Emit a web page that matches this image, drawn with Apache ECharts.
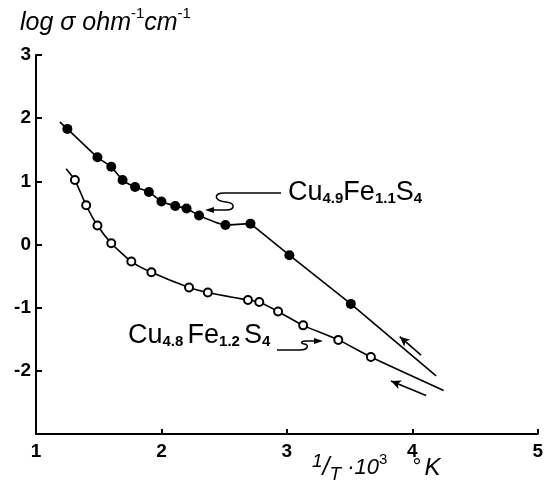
<!DOCTYPE html>
<html>
<head>
<meta charset="utf-8">
<script src="https://cdn.jsdelivr.net/npm/echarts@6/dist/echarts.min.js"></script>
<style>
  html, body { margin: 0; padding: 0; background: #fff; }
  #chart { width: 546px; height: 496px; }
</style>
</head>
<body>
<div id="chart"></div>
<script>
// Cu4.9Fe1.1S4 (filled dots)
const filledX = [1.25, 1.49, 1.60, 1.69, 1.79, 1.90, 2.00, 2.11, 2.20, 2.30, 2.51, 2.71, 3.02, 3.51];
const filledY = [1.83, 1.38, 1.23, 1.02, 0.91, 0.83, 0.68, 0.61, 0.57, 0.46, 0.31, 0.33, -0.17, -0.94];
const filledStart = [1.19, 1.94];
const filledEnd = [4.19, -2.08];
const filledKink = 11; // index where the curve turns into a straight line

// Cu4.8Fe1.2S4 (open circles)
const openX = [1.31, 1.40, 1.49, 1.60, 1.76, 1.92, 2.22, 2.37, 2.69, 2.78, 2.93, 3.13, 3.41, 3.67];
const openY = [1.02, 0.62, 0.30, 0.02, -0.27, -0.44, -0.68, -0.76, -0.88, -0.91, -1.06, -1.28, -1.51, -1.78];
const openStart = [1.24, 1.20];
const openEnd = [4.25, -2.31];

// heating/cooling arrows alongside the lines
const arrows = [
  [[4.07, -1.75], [3.90, -1.46]],
  [[4.11, -2.39], [3.83, -2.16]]
];

const xTicks = [1, 2, 3, 4, 5];
const yTicks = [-3, -2, -1, 0, 1, 2, 3];

const pts = (xs, ys) => xs.map((x, i) => [x, ys[i]]);
const filledPts = pts(filledX, filledY);
const openPts = pts(openX, openY);

const chart = echarts.init(document.getElementById("chart"));

const axisFont = { fontFamily: "Liberation Sans", fontWeight: "bold", fontSize: 19, color: "#000" };
const ink = { stroke: "#000", lineWidth: 1.5, fill: null };
const curve = { color: "#000", width: 1.6 };

chart.setOption({
  animation: false,
  grid: { left: 36, right: 6, top: 55, bottom: 62 },
  xAxis: {
    type: "value",
    min: xTicks[0],
    max: xTicks[xTicks.length - 1],
    interval: 1,
    axisLine: { onZero: false, lineStyle: { color: "#000", width: 2 } },
    axisTick: { inside: true, length: 5, lineStyle: { color: "#000", width: 2 } },
    axisLabel: Object.assign({ margin: 8 }, axisFont),
    splitLine: { show: false }
  },
  yAxis: {
    type: "value",
    min: yTicks[0],
    max: yTicks[yTicks.length - 1],
    interval: 1,
    axisLine: { show: true, onZero: false, lineStyle: { color: "#000", width: 2 } },
    axisTick: { show: true, inside: true, length: 6, lineStyle: { color: "#000", width: 2 } },
    axisLabel: Object.assign({ margin: 5, showMinLabel: false }, axisFont),
    splitLine: { show: false }
  },
  series: [
    {
      type: "line",
      data: [filledStart].concat(filledPts.slice(0, filledKink + 1)),
      smooth: 0.2,
      showSymbol: false,
      lineStyle: curve,
      silent: true,
      z: 2
    },
    {
      type: "line",
      data: filledPts.slice(filledKink).concat([filledEnd]),
      showSymbol: false,
      lineStyle: curve,
      silent: true,
      z: 2,
      markLine: {
        silent: true,
        symbol: ["none", "arrow"],
        symbolSize: [7, 10],
        lineStyle: { color: "#000", width: 1.6, type: "solid" },
        label: { show: false },
        data: arrows.map(a => [{ coord: a[0] }, { coord: a[1] }])
      }
    },
    {
      type: "line",
      data: [openStart].concat(openPts, [openEnd]),
      smooth: 0.2,
      showSymbol: false,
      lineStyle: curve,
      silent: true,
      z: 2
    },
    {
      type: "scatter",
      data: filledPts,
      symbol: "circle",
      symbolSize: 10,
      itemStyle: { color: "#000", opacity: 1 },
      z: 3
    },
    {
      type: "scatter",
      data: openPts,
      symbol: "circle",
      symbolSize: 8,
      itemStyle: { color: "#fff", borderColor: "#000", borderWidth: 2, opacity: 1 },
      z: 3
    }
  ],
  graphic: [
    {
      type: "text",
      x: 20, y: 6,
      style: {
        text: "{m|log σ ohm}{s|-1}{m|cm}{s|-1}",
        rich: {
          m: { fontFamily: "Liberation Sans", fontStyle: "italic", fontSize: 25, fill: "#000", lineHeight: 30, verticalAlign: "bottom" },
          s: { fontFamily: "Liberation Sans", fontSize: 15, fill: "#000", verticalAlign: "top", lineHeight: 30 }
        }
      }
    },
    {
      type: "text",
      x: 312, y: 452,
      style: {
        text: "{a|1}{b|/}{c|T}{m| ·10}{s|3}{m|    °}{k|K}",
        rich: {
          a: { fontFamily: "Liberation Sans", fontStyle: "italic", fontSize: 19, fill: "#000", verticalAlign: "top", lineHeight: 32 },
          b: { fontFamily: "Liberation Sans", fontStyle: "italic", fontSize: 25, fill: "#000", lineHeight: 32 },
          c: { fontFamily: "Liberation Sans", fontStyle: "italic", fontSize: 19, fill: "#000", verticalAlign: "bottom", lineHeight: 32 },
          m: { fontFamily: "Liberation Sans", fontStyle: "italic", fontSize: 22, fill: "#000", lineHeight: 32 },
          k: { fontFamily: "Liberation Sans", fontStyle: "italic", fontSize: 24, fill: "#000", lineHeight: 32, padding: [0, 0, 0, 4] },
          s: { fontFamily: "Liberation Sans", fontSize: 15, fill: "#000", verticalAlign: "top", lineHeight: 32 }
        }
      }
    },
    {
      type: "text",
      x: 288, y: 177,
      style: {
        text: "{m|Cu}{s|4.9}{m|Fe}{s|1.1}{m|S}{s|4}",
        rich: {
          m: { fontFamily: "Liberation Sans", fontSize: 27, fill: "#000", lineHeight: 29, verticalAlign: "bottom" },
          s: { fontFamily: "Liberation Sans", fontWeight: "bold", fontSize: 15, fill: "#000", lineHeight: 29, verticalAlign: "bottom" }
        }
      }
    },
    {
      type: "text",
      x: 128, y: 319,
      style: {
        text: "{m|Cu}{s|4.8 }{m|Fe}{s|1.2 }{m|S}{s|4}",
        rich: {
          m: { fontFamily: "Liberation Sans", fontSize: 27, fill: "#000", lineHeight: 30, verticalAlign: "bottom" },
          s: { fontFamily: "Liberation Sans", fontWeight: "bold", fontSize: 15, fill: "#000", lineHeight: 30, verticalAlign: "bottom" }
        }
      }
    },
    // leader from upper label
    { type: "polyline", shape: { points: [[281, 193], [224, 193]] }, style: ink },
    { type: "bezierCurve", shape: { x1: 224, y1: 193, cpx1: 213, cpy1: 193, cpx2: 214, cpy2: 201, x2: 226, y2: 202 }, style: ink },
    { type: "bezierCurve", shape: { x1: 226, y1: 202, cpx1: 236, cpy1: 203, cpx2: 235, cpy2: 210, x2: 226, y2: 210 }, style: ink },
    { type: "polyline", shape: { points: [[226, 210], [210, 210]] }, style: ink },
    { type: "polygon", shape: { points: [[205, 210], [214, 207], [214, 213]] }, style: { fill: "#000" } },
    // leader from lower label
    { type: "polyline", shape: { points: [[277, 350], [300, 350]] }, style: ink },
    { type: "bezierCurve", shape: { x1: 300, y1: 350, cpx1: 309, cpy1: 350, cpx2: 309, cpy2: 344, x2: 304, y2: 344 }, style: ink },
    { type: "bezierCurve", shape: { x1: 304, y1: 344, cpx1: 300, cpy1: 343, cpx2: 301, cpy2: 341, x2: 307, y2: 341 }, style: ink },
    { type: "polyline", shape: { points: [[307, 341], [318, 341]] }, style: ink },
    { type: "polygon", shape: { points: [[323, 341], [314, 338], [314, 344]] }, style: { fill: "#000" } }
  ]
});
</script>
</body>
</html>
